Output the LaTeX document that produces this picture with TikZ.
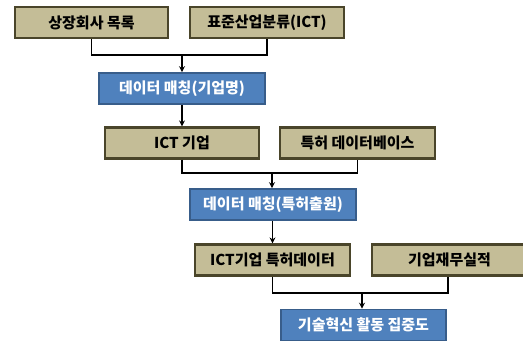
\documentclass[tikz,border=0pt]{standalone}
\usepackage{fontspec}
\newfontfamily\kr{Noto Sans CJK KR}
\usetikzlibrary{arrows.meta}
\definecolor{tanfill}{HTML}{C4BD97}
\definecolor{tanline}{HTML}{4A452A}
\definecolor{bluefill}{HTML}{4F81BD}
\definecolor{blueline}{HTML}{385D8A}
\tikzset{
  tanbox/.style={draw=tanline, fill=tanfill, line width=2.2pt, minimum height=31pt, inner sep=0pt, font=\kr\bfseries\fontsize{15}{17}\selectfont, text=black},
  bluebox/.style={draw=blueline, fill=bluefill, line width=1.6pt, minimum height=31pt, inner sep=0pt, font=\kr\bfseries\fontsize{15}{17}\selectfont, text=white},
  conn/.style={draw=black, line width=1.3pt},
  arr/.style={conn, -{Stealth[length=6pt,width=6pt]}}
}
\begin{document}
\begin{tikzpicture}[x=1pt,y=-1pt]
\useasboundingbox (0,0) rectangle (523,342);
\clip (0,0) rectangle (523,342);
\node[tanbox, minimum width=153pt] (b1) at (91.5,22.5) {상장회사 목록};
\node[tanbox, minimum width=154pt] (b2) at (267,22.5) {표준산업분류(ICT)};
\node[bluebox, minimum width=166pt] (b3) at (182,88.5) {데이터 매칭(기업명)};
\node[tanbox, minimum width=154pt] (b4) at (182,143) {ICT 기업};
\node[tanbox, minimum width=155pt] (b5) at (357.5,143) {특허 데이터베이스};
\node[bluebox, minimum width=166pt] (b6) at (273,204.5) {데이터 매칭(특허출원)};
\node[tanbox, minimum width=155pt] (b7) at (272.5,260) {ICT기업 특허데이터};
\node[tanbox, minimum width=155pt] (b8) at (449.5,260) {기업재무실적};
\node[bluebox, minimum width=165pt] (b9) at (363.5,325) {기술혁신 활동 집중도};
\coordinate (m1) at (182,55);
\coordinate (m2) at (272,173);
\coordinate (m3) at (362,293);
\draw[conn] (b1.south) |- (m1) -| (b2.south);
\draw[arr] (m1) -- (b3.north);
\draw[arr] (b3.south) -- (b4.north);
\draw[conn] (b4.south) |- (m2) -| (b5.south);
\draw[arr] (m2) -- (m2 |- b6.north);
\draw[arr] (b6.south -| b7.north) -- (b7.north);
\draw[conn] (b7.south) |- (m3) -| ([xshift=-1.5pt]b8.south);
\draw[arr] (m3) -- (m3 |- b9.north);
\end{tikzpicture}
\end{document}
